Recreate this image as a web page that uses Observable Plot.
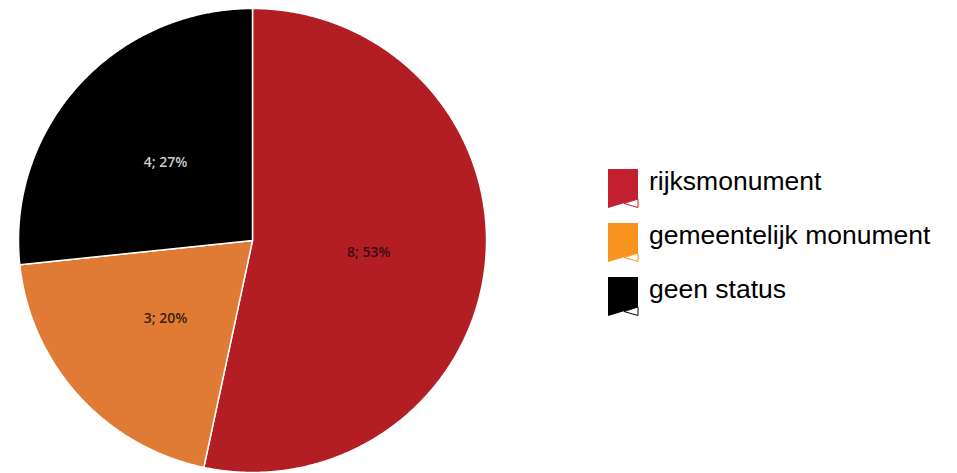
<!DOCTYPE html>
<html><head><meta charset="utf-8">
<script src="https://cdn.jsdelivr.net/npm/d3@7"></script>
<script src="https://cdn.jsdelivr.net/npm/@observablehq/plot@0.6"></script>
<style>
body{margin:0;background:#fff;}
#wrap{position:relative;width:957px;height:473px;}
#legend{position:absolute;left:608px;top:169px;font-family:"Liberation Sans",Arial,sans-serif;font-size:26.5px;color:#000;}
.item{position:absolute;left:0;white-space:nowrap;height:40px;}
.item svg{position:absolute;left:0;top:0;}
.item span{position:absolute;left:41px;top:-3px;}
</style></head>
<body><div id="wrap"><div id="chart"></div><div id="legend"></div></div>
<script>
const categories = ["rijksmonument", "gemeentelijk monument", "geen status"];
const counts = [8, 3, 4];
const percentLabels = ["53%", "20%", "27%"];
const sliceColors = ["#B31E24", "#E07B36", "#000000"];
const legendColors = ["#C21F30", "#F7941D", "#000000"];
const labelColors = ["#3a0c0e", "#3a220e", "#cccccc"];

const data = categories.map((c, i) => ({category: c, value: counts[i], pct: percentLabels[i]}));
const arcs = d3.pie().sort(null).value(d => d.value)(data);

// polygon vertices per slice derived from the pie angles
const poly = [];
arcs.forEach(a => {
  const n = Math.max(2, Math.ceil((a.endAngle - a.startAngle) / 0.005));
  poly.push({category: a.data.category, x: 0, y: 0});
  for (let k = 0; k <= n; k++) {
    const t = a.startAngle + (a.endAngle - a.startAngle) * k / n;
    poly.push({category: a.data.category, x: Math.sin(t), y: Math.cos(t)});
  }
  poly.push({category: a.data.category, x: 0, y: 0});
});
const labels = arcs.map(a => {
  const m = (a.startAngle + a.endAngle) / 2;
  return {category: a.data.category, x: 0.5 * Math.sin(m), y: 0.5 * Math.cos(m), text: a.data.value + "; " + a.data.pct};
});

const chart = Plot.plot({
  width: 957, height: 473,
  marginLeft: 18, marginRight: 471, marginTop: 8, marginBottom: 1,
  x: {domain: [-1, 1], axis: null},
  y: {domain: [-1, 1], axis: null},
  color: {domain: categories, range: sliceColors},
  style: {background: "#fff", overflow: "visible"},
  marks: [
    Plot.line(poly, {x: "x", y: "y", z: "category", fill: "category", stroke: "#fff", strokeWidth: 1.5, strokeLinejoin: "round", curve: "linear"}),
    Plot.text(labels, {x: "x", y: "y", text: "text", fill: d => labelColors[categories.indexOf(d.category)], fontSize: 14, fontWeight: 600, fontFamily: "Open Sans, sans-serif"})
  ]
});
document.getElementById("chart").appendChild(chart);

const legend = document.getElementById("legend");
categories.forEach((c, i) => {
  const div = document.createElement("div");
  div.className = "item";
  div.style.top = (i * 54) + "px";
  const col = legendColors[i];
  div.innerHTML = `<svg width="32" height="41" viewBox="0 0 32 41">
    <polygon points="0,0 30,0 30,30 0,39" fill="${col}"/>
    <polygon points="16,34.5 30,30 30,38.5" fill="#fff" stroke="${col}" stroke-width="1"/>
  </svg><span>${c}</span>`;
  legend.appendChild(div);
});
</script></body></html>
